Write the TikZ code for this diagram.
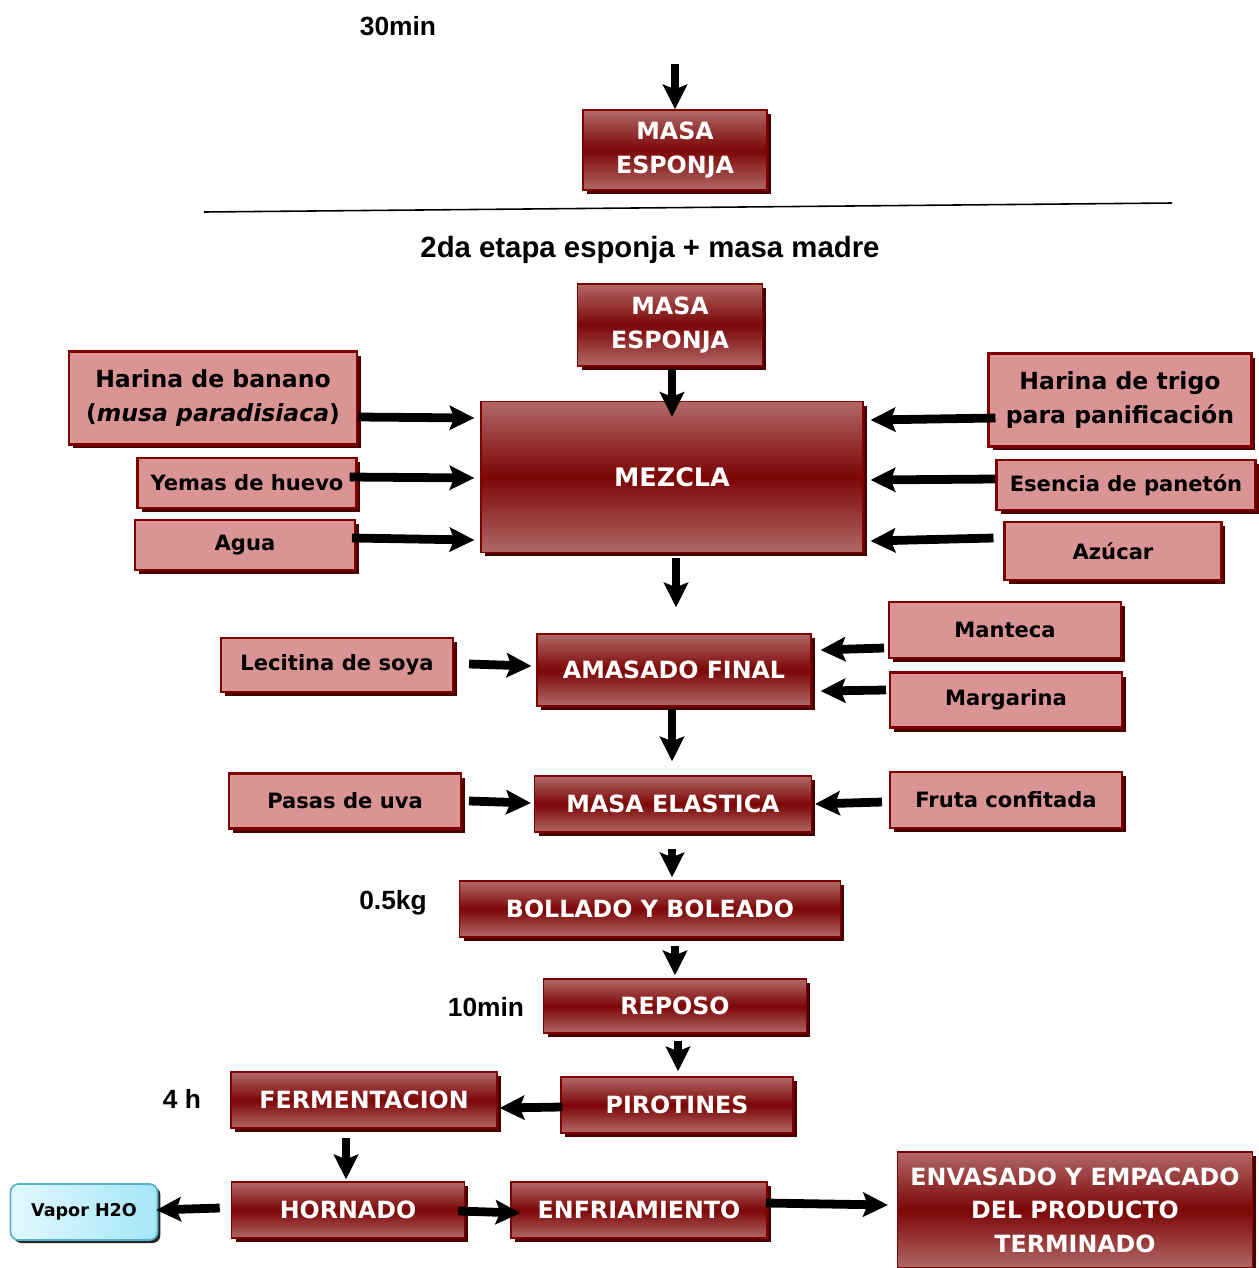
\documentclass[tikz,border=0pt]{standalone}
\usepackage{fontspec}
\setmainfont{DejaVu Sans}
\newfontfamily\labelfont{Liberation Sans}
\usetikzlibrary{
    arrows.meta,
    calc,
    shadows,
}
\definecolor{boxdark}{HTML}{7C0606}
\definecolor{boxlight}{HTML}{B26868}
\definecolor{boxpink}{HTML}{DA9494}
\definecolor{boxline}{HTML}{7F0000}
\definecolor{boxshadow}{HTML}{4C0000}
\definecolor{vaporleft}{HTML}{E2F8FE}
\definecolor{vaporright}{HTML}{A4E6F8}
\definecolor{vaporline}{HTML}{58B2CA}

\begin{document}
\begin{tikzpicture}[x=0.02cm, y=-0.02cm,
    dark/.style = {draw=boxline, line width=0.9pt, top color=boxlight, bottom color=boxlight, middle color=boxdark,
        text=white, align=center, inner sep=0pt, font=\bfseries\fontsize{13.5}{19}\selectfont,
        drop shadow={fill=boxshadow, opacity=1, shadow xshift=0.08cm, shadow yshift=-0.08cm}},
    light/.style = {draw=boxline, line width=1.2pt, fill=boxpink, text=black, align=center, inner sep=0pt,
        font=\bfseries\fontsize{12}{19}\selectfont,
        drop shadow={fill=boxshadow, opacity=1, shadow xshift=0.08cm, shadow yshift=-0.08cm}},
    lightbig/.style = {light, font=\bfseries\fontsize{13.4}{19}\selectfont},
    vapor/.style = {draw=vaporline, line width=1pt, rounded corners=0.16cm, left color=vaporleft, right color=vaporright,
        font=\bfseries\fontsize{10}{12}\selectfont, inner sep=0pt,
        drop shadow={fill=black!85, opacity=1, shadow xshift=0.06cm, shadow yshift=-0.06cm}},
    note/.style = {font=\labelfont\bfseries\fontsize{15}{18}\selectfont},
    flow/.style = {line width=5pt, -{Stealth[length=0.5cm, width=0.5cm, inset=0.1cm, line width=0.5pt]}},
    ]
    \useasboundingbox (0,0) rectangle (1258,1268);

    % 1ra etapa
    \node[note] (t30) at (398,26) {30min};
    \coordinate (feed) at (675,64);
    \node[dark, minimum width=3.68cm, minimum height=1.60cm] (esp1) at (675,150) {MASA\\ESPONJA};
    \draw[line width=0.9pt] (204,212) -- (1172,203);

    % 2da etapa
    \node[note, font=\labelfont\bfseries\fontsize{16.7}{20}\selectfont] (etapa) at (650,250) {2da etapa esponja + masa madre};
    \node[dark, minimum width=3.70cm, minimum height=1.64cm] (esp2) at (670,325) {MASA\\ESPONJA};
    \node[lightbig, minimum width=5.76cm, minimum height=1.86cm] (banano) at (213,398) {Harina de banano\\(\textit{musa paradisiaca})};
    \node[light, minimum width=4.38cm, minimum height=1.00cm] (yemas) at (247,483) {Yemas de huevo};
    \node[light, minimum width=4.40cm, minimum height=1.00cm] (agua) at (245,545) {Agua};
    \node[dark, minimum width=7.64cm, minimum height=3.02cm, font=\bfseries\fontsize{14.5}{19}\selectfont] (mezcla) at (672,477) {MEZCLA};
    \node[lightbig, minimum width=5.26cm, minimum height=1.86cm] (trigo) at (1120,400) {Harina de trigo\\para panificación};
    \node[light, minimum width=5.18cm, minimum height=1.00cm] (esencia) at (1126,485) {Esencia de panetón};
    \node[light, minimum width=4.34cm, minimum height=1.16cm] (azucar) at (1113,551) {Azúcar};

    \node[light, minimum width=4.64cm, minimum height=1.08cm] (lecitina) at (337,665) {Lecitina de soya};
    \node[dark, minimum width=5.48cm, minimum height=1.44cm] (amasado) at (674,670) {AMASADO FINAL};
    \node[light, minimum width=4.64cm, minimum height=1.12cm] (manteca) at (1005,630) {Manteca};
    \node[light, minimum width=4.64cm, minimum height=1.10cm] (margarina) at (1006,700) {Margarina};

    \node[light, minimum width=4.64cm, minimum height=1.10cm] (pasas) at (345,801) {Pasas de uva};
    \node[dark, minimum width=5.54cm, minimum height=1.12cm] (elastica) at (673,804) {MASA ELASTICA};
    \node[light, minimum width=4.64cm, minimum height=1.12cm] (fruta) at (1006,800) {Fruta confitada};

    \node[note] (peso) at (393,903) {0.5kg};
    \node[dark, minimum width=7.62cm, minimum height=1.12cm] (bollado) at (650,909) {BOLLADO Y BOLEADO};
    \node[note] (t10) at (486,1007) {10min};
    \node[dark, minimum width=5.26cm, minimum height=1.08cm] (reposo) at (675,1006) {REPOSO};
    \node[dark, minimum width=4.64cm, minimum height=1.12cm] (pirotines) at (677,1105) {PIROTINES};
    \node[note] (t4) at (182,1099) {4 h};
    \node[dark, minimum width=5.32cm, minimum height=1.12cm] (fermentacion) at (364,1100) {FERMENTACION};
    \node[dark, minimum width=4.66cm, minimum height=1.12cm] (hornado) at (348,1210) {HORNADO};
    \node[vapor, minimum width=2.94cm, minimum height=1.12cm] (vapor) at (84,1212) {Vapor H2O};
    \node[dark, minimum width=5.12cm, minimum height=1.12cm] (enfriamiento) at (639,1210) {ENFRIAMIENTO};
    \node[dark, minimum width=7.10cm, minimum height=2.32cm] (envasado) at (1075,1210) {ENVASADO Y EMPACADO\\DEL PRODUCTO\\TERMINADO};

    % flechas
    \draw[flow] (feed) -- (esp1.north);
    \draw[flow] ($(esp2.south)+(2,2)$) -- ($(mezcla.north)+(0,16)$);
    \draw[flow] ($(banano.east)+(0,19)$) -- ($(mezcla.west)+(-6,-59)$);
    \draw[flow] ($(yemas.east)+(-8,-6)$) -- ($(mezcla.west)+(-6,1)$);
    \draw[flow] ($(agua.east)+(-4,-7)$) -- ($(mezcla.west)+(-6,63)$);
    \draw[flow] ($(trigo.west)+(8,18)$) -- ($(mezcla.east)+(7,-57)$);
    \draw[flow] ($(esencia.west)+(0,-6)$) -- ($(mezcla.east)+(7,3)$);
    \draw[flow] ($(azucar.west)+(-10,-13)$) -- ($(mezcla.east)+(7,64)$);
    \draw[flow] ($(mezcla.south)+(4,5)$) -- ($(amasado.north)+(2,-26)$);
    \draw[flow] ($(lecitina.east)+(15,-1)$) -- ($(amasado.west)+(-5,-4)$);
    \draw[flow] ($(manteca.west)+(-4,18)$) -- ($(amasado.east)+(9,-20)$);
    \draw[flow] ($(margarina.west)+(-3,-10)$) -- ($(amasado.east)+(9,21)$);
    \draw[flow] ($(amasado.south)+(-2,2)$) -- ($(elastica.north)+(-1,-14)$);
    \draw[flow] ($(pasas.east)+(7,0)$) -- ($(elastica.west)+(-3,-1)$);
    \draw[flow] ($(fruta.west)+(-7,2)$) -- ($(elastica.east)+(3,0)$);
    \draw[flow] ($(elastica.south)+(-1,16)$) -- ($(bollado.north)+(22,-3)$);
    \draw[flow] ($(bollado.south)+(25,8)$) -- ($(reposo.north)+(0,-3)$);
    \draw[flow] ($(reposo.south)+(3,7)$) -- ($(pirotines.north)+(1,-5)$);
    \draw[flow] ($(pirotines.west)+(2,2)$) -- ($(fermentacion.east)+(2,8)$);
    \draw[flow] ($(fermentacion.south)+(-18,9)$) -- ($(hornado.north)+(-2,-2)$);
    \draw[flow] ($(hornado.west)+(-11,-2)$) -- ($(vapor.east)+(-2,-2)$);
    \draw[flow] ($(hornado.east)+(-7,1)$) -- ($(enfriamiento.west)+(10,3)$);
    \draw[flow] ($(enfriamiento.east)+(-2,-7)$) -- ($(envasado.west)+(-9,-5)$);
\end{tikzpicture}
\end{document}
